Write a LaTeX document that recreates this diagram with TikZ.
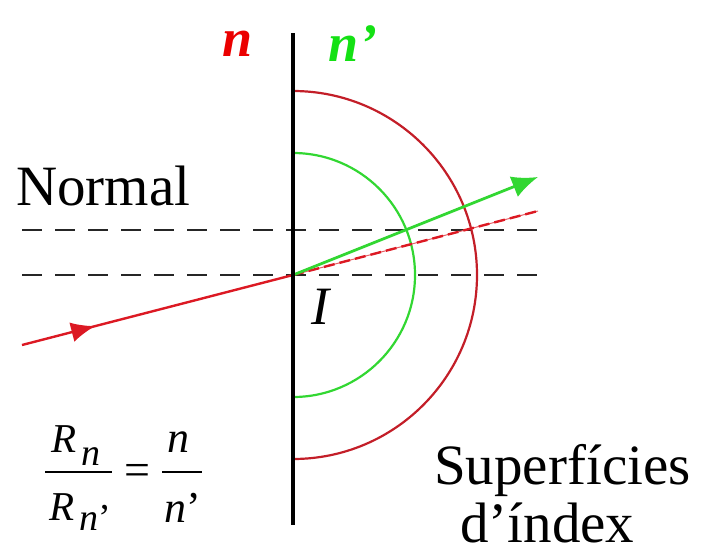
\documentclass[tikz,border=0pt]{standalone}
\usepackage{fontspec}
\setmainfont{LiberationSerif}[Extension=.ttf, UprightFont=*-Regular, ItalicFont=*-Italic, BoldFont=*-Bold, BoldItalicFont=*-BoldItalic]
\usetikzlibrary{arrows.meta,decorations.markings,calc}
\definecolor{rayred}{RGB}{220,25,35}
\definecolor{arcred}{RGB}{195,30,40}
\definecolor{raygreen}{RGB}{50,215,50}
\definecolor{lblred}{RGB}{235,0,0}
\definecolor{lblgreen}{RGB}{20,225,20}
\tikzset{
  normalline/.style={line width=2.4pt, dash pattern=on 20pt off 13pt, black!85},
  bigtext/.style={font=\fontsize{57}{62}\selectfont, inner sep=0pt},
  idxlabel/.style={font=\fontsize{54}{58}\selectfont\bfseries\itshape, inner sep=0pt},
  eqR/.style={font=\fontsize{41}{44}\selectfont\itshape, inner sep=0pt, anchor=base west},
  eqsub/.style={font=\fontsize{38}{40}\selectfont\itshape, inner sep=0pt, anchor=base west},
  eqn/.style={font=\fontsize{44}{48}\selectfont\itshape, inner sep=0pt, anchor=base west},
  fracbar/.style={line width=2pt, black},
}
\begin{document}
\begin{tikzpicture}[x=1pt,y=-1pt]
\useasboundingbox (0,0) rectangle (703,544);
\coordinate (I) at (293,275);
\coordinate (top) at (293,33);
\coordinate (bot) at (293,525);
\coordinate (inc) at (22,345);
\coordinate (refr) at (538,177);
\coordinate (cont) at (538,211);
\coordinate (n1a) at (22,230);
\coordinate (n1b) at (540,230);
\coordinate (n2a) at (22,275);
\coordinate (n2b) at (540,275);

% normals
\draw[normalline] (n1a) -- (n1b);
\draw[normalline] (n2a) -- (n2b);

% arcs
\draw[arcred, line width=2.2pt] ($(I)+(0,-184)$) arc[start angle=-90, end angle=90, radius=184];
\draw[raygreen, line width=2.2pt] ($(I)+(0,-122)$) arc[start angle=-90, end angle=90, radius=122];

% incident ray
\draw[rayred, line width=2.4pt,
  postaction={decorate},
  decoration={markings, mark=at position 0.27 with {\arrow{Latex[length=24pt,width=20pt]}}}]
  (inc) -- (I);
% continuation
\draw[rayred!70, line width=1pt] (I) -- (cont);
\draw[rayred, line width=2.4pt, dash pattern=on 11pt off 5pt] (I) -- (cont);
% refracted ray
\draw[raygreen, line width=2.8pt, -{Latex[length=26pt,width=22pt]}] (I) -- (refr);

% interface
\draw[black, line width=3.8pt] (top) -- (bot);

% labels
\node[idxlabel, text=lblred] (nl) at (238,44) {n};
\node[idxlabel, text=lblgreen] (nr) at (353,44) {n'};
\node[bigtext, anchor=base west] (normal) at (16,205) {Normal};
\node[font=\fontsize{54}{58}\selectfont\itshape, inner sep=0pt] (Ilbl) at (320,307) {I};

% formula R_n / R_n' = n / n'
\node[eqR] (Rnum) at (51,452) {R};
\node[eqsub] (snum) at (81,465) {n};
\coordinate (b1a) at (45,472);
\coordinate (b1b) at (112,472);
\draw[fracbar] (b1a) -- (b1b);
\node[eqR] (Rden) at (49,520) {R};
\node[eqsub] (sden) at (79,530) {n\textup{\char"0027}};
\node[font=\fontsize{46}{48}\selectfont, inner sep=0pt] (eqsign) at (137,475) {=};
\coordinate (b2a) at (162,472);
\coordinate (b2b) at (202,472);
\draw[fracbar] (b2a) -- (b2b);
\node[eqn] (nnum) at (167,452) {n};
\node[eqn] (nden) at (164,522) {n\textup{\char"0027}};

\node[bigtext, fill=white, anchor=base west, inner sep=0pt] (sup) at (434,484) {Superfícies};
\node[bigtext, anchor=base west] (idx) at (460,542) {d’índex};
\end{tikzpicture}
\end{document}
